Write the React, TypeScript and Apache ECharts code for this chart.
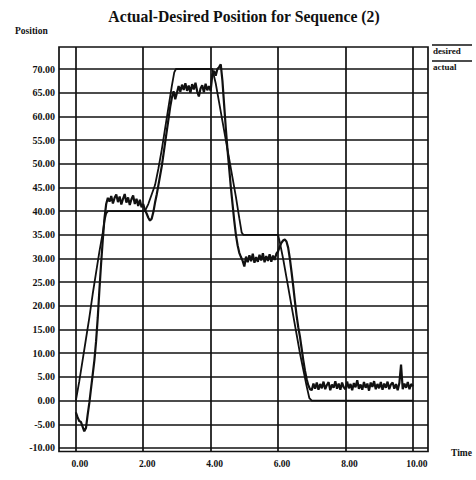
import React, { useEffect, useRef } from "react";
import * as echarts from "echarts";

const TITLE = "Actual-Desired Position for Sequence (2)";
const Y_NAME = "Position";
const X_NAME = "Time";
const LEGEND_NAMES = ["desired", "actual"];

const X_TICKS = [0, 2, 4, 6, 8, 10];
const Y_TICKS = [-10, -5, 0, 5, 10, 15, 20, 25, 30, 35, 40, 45, 50, 55, 60, 65, 70];
const X_RANGE = [-0.5, 10.45];
const Y_RANGE = [-10.75, 74.65];

// desired profile (time, position)
const desiredTime = [
  0, 0.1, 0.2, 0.3, 0.4, 0.5, 0.6, 0.7, 0.8, 0.85, 0.9, 0.95,
  2.05, 2.15, 2.25, 2.35, 2.45, 2.55, 2.65, 2.75, 2.85, 2.92, 2.97,
  4.05, 4.15, 4.25, 4.35, 4.45, 4.55, 4.65, 4.75, 4.85, 4.92, 4.97,
  6.0, 6.05, 6.15, 6.25, 6.35, 6.45, 6.55, 6.65, 6.75, 6.85, 6.93, 7.0,
  10.0,
];
const desiredValue = [
  0, 4, 8.5, 13, 17.5, 22.5, 27, 31.5, 35.5, 38, 39.5, 40,
  40, 41.5, 43.5, 45.5, 49, 53, 57.5, 62, 66.5, 69.3, 70,
  70, 67, 63, 59, 55, 51, 47, 43, 38.5, 35.5, 35,
  35, 33.5, 30, 26, 22, 18, 14, 10, 6.5, 3, 0.5, 0,
  0,
];

// actual position, sampled every ACTUAL_STEP seconds from ACTUAL_START
const ACTUAL_START = 0;
const ACTUAL_STEP = 0.05;
const actualValue = [
  // 0.00 - 0.95
  -2.5, -3.5, -4.3, -4.5, -5.5, -6.5, -5.8, -3.0, -0.5, 2.5,
  5.5, 8.5, 12.5, 17.5, 23.5, 29.0, 34.0, 38.5, 41.5, 42.8,
  // 1.00 - 1.95
  42.0, 43.2, 41.6, 42.8, 43.5, 41.9, 43.1, 41.4, 42.6, 43.6,
  41.8, 42.9, 41.3, 42.5, 43.3, 41.5, 42.6, 41.1, 42.4, 40.8,
  // 2.00 - 2.95
  41.5, 40.2, 39.5, 38.6, 38.0, 38.4, 39.8, 41.8, 43.5, 45.5,
  47.5, 49.5, 52.0, 54.5, 57.0, 59.5, 62.0, 64.0, 65.3, 63.6,
  // 3.00 - 3.95
  65.0, 66.4, 65.2, 66.7, 65.6, 67.0, 65.4, 66.5, 65.0, 66.8,
  65.7, 67.1, 65.3, 64.2, 65.9, 66.6, 65.1, 66.9, 65.5, 66.4,
  // 4.00 - 4.95
  65.4, 68.8, 69.6, 68.6, 70.0, 70.4, 71.0, 67.5, 62.5, 57.5,
  53.0, 49.0, 45.0, 41.5, 38.0, 35.0, 32.8, 31.2, 30.3, 29.5,
  // 5.00 - 5.95
  28.3, 30.4, 29.2, 30.7, 29.4, 31.0, 29.1, 30.3, 29.3, 30.8,
  29.6, 31.1, 29.2, 30.5, 29.5, 30.9, 29.3, 30.6, 29.7, 31.0,
  // 6.00 - 6.95
  31.5, 32.5, 33.3, 33.8, 34.0, 33.6, 32.3, 30.0, 27.2, 24.2,
  21.0, 18.0, 15.5, 13.5, 11.0, 8.5, 6.3, 4.5, 3.2, 2.4,
  // 7.00 - 7.95
  2.2, 3.6, 2.5, 3.8, 2.3, 3.5, 2.6, 4.0, 2.4, 3.3,
  3.9, 2.2, 3.4, 2.7, 4.1, 2.5, 3.6, 2.3, 3.8, 2.8,
  // 8.00 - 8.95
  2.4, 4.0, 2.6, 3.5, 2.2, 3.7, 2.8, 4.3, 2.5, 3.4,
  2.3, 3.9, 2.7, 3.6, 2.1, 3.8, 2.9, 4.1, 2.4, 3.5,
  // 9.00 - 10.00
  2.6, 3.9, 2.3, 3.6, 2.7, 4.0, 2.4, 3.4, 3.8, 2.5,
  3.5, 2.2, 3.7, 7.6, 2.4, 3.6, 2.7, 3.9, 2.4, 3.5,
  3.0,
];

const FONT = "'Liberation Serif', 'DejaVu Serif', serif";
const INK = "#111";

export default function App() {
  const ref = useRef<HTMLDivElement | null>(null);

  useEffect(() => {
    if (!ref.current) return;
    const chart = echarts.init(ref.current, undefined, { renderer: "svg" });

    const desiredData = desiredTime.map((t, i) => [t, desiredValue[i]]);
    const actualData = actualValue.map((v, i) => [
      +(ACTUAL_START + i * ACTUAL_STEP).toFixed(2),
      v,
    ]);

    const gridLine = { show: true, lineStyle: { color: INK, width: 1.7, type: "solid" as const } };

    chart.setOption({
      animation: false,
      backgroundColor: "#fff",
      grid: { left: 59, right: 48, top: 47, bottom: 28.5, containLabel: false },
      xAxis: {
        type: "value",
        min: X_RANGE[0],
        max: X_RANGE[1],
        axisLine: { show: false },
        axisTick: { show: false, customValues: X_TICKS },
        splitLine: gridLine,
        axisLabel: {
          customValues: X_TICKS,
          formatter: (v: number) => v.toFixed(2),
          fontFamily: FONT,
          fontWeight: "bold",
          fontSize: 9.5,
          color: INK,
          margin: 7,
          padding: [0, 0, 0, 8],
        },
      },
      yAxis: {
        type: "value",
        min: Y_RANGE[0],
        max: Y_RANGE[1],
        axisLine: { show: false },
        axisTick: { show: false, customValues: Y_TICKS },
        splitLine: gridLine,
        axisLabel: {
          customValues: Y_TICKS,
          formatter: (v: number) => v.toFixed(2),
          fontFamily: FONT,
          fontWeight: "bold",
          fontSize: 10,
          color: INK,
          margin: 4,
        },
      },
      graphic: [
        {
          type: "rect",
          shape: { x: 59, y: 47, width: 369, height: 404.5 },
          style: { fill: "none", stroke: INK, lineWidth: 1.7 },
          silent: true,
          z: 10,
        },
        {
          type: "text",
          x: 244,
          y: 16,
          style: {
            text: TITLE,
            font: `bold 15.7px ${FONT}`,
            fill: INK,
            align: "center",
            verticalAlign: "middle",
          },
        },
        {
          type: "text",
          x: 15,
          y: 31,
          style: {
            text: Y_NAME,
            font: `bold 9.5px ${FONT}`,
            fill: INK,
            align: "left",
            verticalAlign: "middle",
          },
        },
        {
          type: "text",
          x: 451,
          y: 453,
          style: {
            text: X_NAME,
            font: `bold 9.5px ${FONT}`,
            fill: INK,
            align: "left",
            verticalAlign: "middle",
          },
        },
        {
          type: "line",
          shape: { x1: 432, y1: 45, x2: 472, y2: 45 },
          style: { stroke: INK, lineWidth: 1.5 },
        },
        {
          type: "text",
          x: 433,
          y: 51,
          style: {
            text: LEGEND_NAMES[0],
            font: `bold 9px ${FONT}`,
            fill: INK,
            align: "left",
            verticalAlign: "middle",
          },
        },
        {
          type: "line",
          shape: { x1: 432, y1: 61, x2: 472, y2: 61 },
          style: { stroke: INK, lineWidth: 1.5 },
        },
        {
          type: "text",
          x: 433,
          y: 67,
          style: {
            text: LEGEND_NAMES[1],
            font: `bold 9px ${FONT}`,
            fill: INK,
            align: "left",
            verticalAlign: "middle",
          },
        },
      ],
      series: [
        {
          name: LEGEND_NAMES[0],
          type: "line",
          data: desiredData,
          showSymbol: false,
          symbol: "none",
          clip: true,
          lineStyle: { color: INK, width: 1.8 },
          z: 5,
        },
        {
          name: LEGEND_NAMES[1],
          type: "line",
          data: actualData,
          showSymbol: false,
          symbol: "none",
          clip: true,
          lineStyle: { color: INK, width: 2.2 },
          z: 6,
        },
      ],
    });

    return () => chart.dispose();
  }, []);

  return (
    <div
      ref={ref}
      style={{ position: "fixed", left: 0, top: 0, width: 476, height: 480, background: "#fff" }}
    />
  );
}
